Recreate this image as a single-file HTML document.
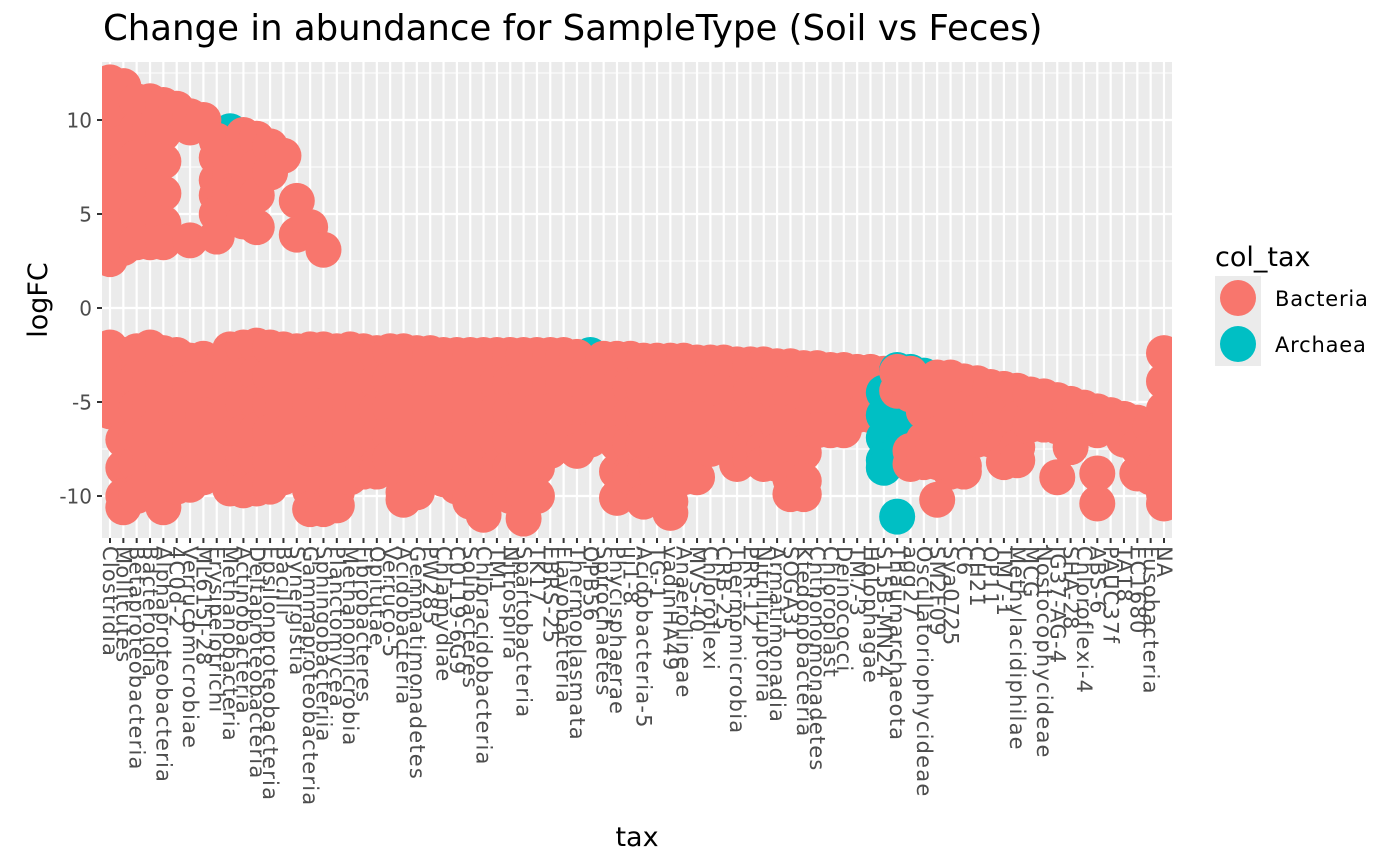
<!DOCTYPE html>
<html><head><meta charset="utf-8">
<style>
html,body{margin:0;padding:0;background:#fff;}
svg{display:block;font-family:"DejaVu Sans","Liberation Sans",sans-serif;}
</style></head>
<body>
<svg id="chart" width="1400" height="866" viewBox="0 0 1400 866" xmlns="http://www.w3.org/2000/svg">
<defs><clipPath id="panelClip"><rect x="102" y="62" width="1070" height="476"/></clipPath></defs>
<text x="103" y="40" font-size="35.5" fill="#000">Change in abundance for SampleType (Soil vs Feces)</text>
<rect x="102" y="62" width="1070" height="476" fill="#EBEBEB"/>
<g id="grid"></g>
<g id="points" clip-path="url(#panelClip)"></g>
<g id="yaxis"></g>
<g id="xaxis"></g>
<text x="637" y="846" font-size="27" text-anchor="middle" fill="#000">tax</text>
<text transform="translate(47,300) rotate(-90)" font-size="27" text-anchor="middle" fill="#000">logFC</text>
<g>
<text x="1215" y="266" font-size="27" fill="#000">col_tax</text>
<rect x="1215" y="276" width="46" height="45" fill="#EBEBEB"/>
<rect x="1215" y="321" width="46" height="45" fill="#EBEBEB"/>
<circle cx="1238" cy="298" r="18" fill="#F8766D"/>
<circle cx="1238" cy="344" r="18" fill="#00BFC4"/>
<text x="1275" y="306" font-size="21" letter-spacing="0.8" fill="#000">Bacteria</text>
<text x="1275" y="352" font-size="21" letter-spacing="0.8" fill="#000">Archaea</text>
</g>
</svg>
<script>
const categories = ["Clostridia","Mollicutes","Betaproteobacteria","Bacteroidia","Alphaproteobacteria","4C0d-2","Verrucomicrobiae","ML615J-28","Erysipelotrichi","Methanobacteria","Actinobacteria","Deltaproteobacteria","Epsilonproteobacteria","Bacilli","Synergistia","Gammaproteobacteria","Sphingobacteriia","Planctomycea","Methanomicrobia","Fibrobacteres","Opitutae","Verruco-5","Acidobacteria","Gemmatimonadetes","PW285","Chlamydiae","C0119-6G9","Solibacteres","Chloracidobacteria","TM1","Nitrospira","Spartobacteria","TK17","EBRS-25","Flavobacteria","Thermoplasmata","OPB56","Spirochaetes","Phycisphaerae","iii1-8","Acidobacteria-5","TG-1","vadinHA49","Anaerolineae","MVS-40","Chloroflexi","CRB-25","Thermomicrobia","PRR-12","Nitriliruptoria","Armatimonadia","SOGA31","Ktedonobacteria","Chthonomonadetes","Chloroplast","Deinococci","TM7-3","Holophagae","S15B-MN24","Thaumarchaeota","agg27","Oscillatoriophycideae","SM2F09","Sva0725","C6","CH21","OP11","TM7-1","Methylacidiphilae","MCG","Nostocophycideae","JG37-AG-4","SHA-28","Chloroflexi-4","ABS-6","PAUC37f","TA18","EC1680","Fusobacteria","NA"];
const yTicks = [10,5,0,-5,-10];
const yTickLabels = ["10","5","0","-5","-10"];
const yMinor = [12.5,7.5,2.5,-2.5,-7.5];
const bacteriaVals = [
[12,10.5,9,7.5,6,4.5,3.2,2.6,-2.1,-3.5,-5,-5.5],
[11.8,10.3,8.8,7.3,5.8,4.3,3.2,-2.5,-4,-5.5,-7,-8.5,-10,-10.6],
[11,9.5,8,6.5,5,3.5,-2.3,-3.8,-5.3,-6.8,-8.3,-9.8,-10],
[11,9.5,8,6.5,5,3.5,-2.1,-3.6,-5.1,-6.6,-8.1,-9.5],
[10.8,9.3,7.8,6.1,4.5,3.5,-2.4,-3.9,-5.4,-6.9,-8.4,-9.9,-10.6],
[10.6,-2.5,-4,-5.5,-7,-8.5,-9.5],
[10.2,9.6,3.6,-2.8,-4.3,-5.8,-7.3,-8.8,-9.4],
[10,-2.7,-4.2,-5.7,-7.2,-8.7,-9],
[8.9,8,6.8,6,5,3.8,-3.3,-6],
[7.2,6,-2.2,-3.7,-5.2,-6.7,-8.2,-9.6],
[9.2,7.7,6.2,4.6,-2.1,-3.6,-5.1,-6.6,-8.1,-9.7],
[9,7.5,6,4.3,-2,-3.5,-5,-6.5,-8,-9.6],
[8.6,7.2,-2.1,-3.6,-5.1,-6.6,-8.1,-9.5],
[8.1,-2.2,-3.7,-5.2,-6.7,-8.2,-9],
[5.7,3.9,-2.3,-3.8,-5.3,-6.8,-7.6],
[4.3,-2.2,-3.7,-5.2,-6.7,-8.2,-9.7,-10.7],
[3.1,-2.2,-3.7,-5.2,-6.7,-8.2,-9.7,-10.7],
[-2.3,-3.8,-5.3,-6.8,-8.3,-9.8,-10.5],
[-2.2,-3.7,-5.2,-6.7,-8.2,-9],
[-2.3,-3.8,-5.3,-6.8,-8.3,-8.7],
[-2.4,-3.9,-5.4,-6.9,-8.4,-8.7],
[-2.3,-3.8,-5.3,-6.8,-8],
[-2.3,-3.8,-5.3,-6.8,-8.3,-9.8,-10.2],
[-2.4,-3.9,-5.4,-6.9,-8.4,-9.8],
[-2.4,-3.9,-5.4,-6.9,-8.5],
[-2.5,-4,-5.5,-7,-8.5,-9.1],
[-2.5,-4,-5.5,-7,-8.5,-9.5],
[-2.5,-4,-5.5,-7,-8.5,-10,-10.3],
[-2.5,-4,-5.5,-7,-8.5,-10,-11],
[-2.5,-4,-5.5,-7,-8.5,-9],
[-2.5,-4,-5.5,-7,-8.5,-10],
[-2.5,-4,-5.5,-7,-8.5,-10,-11.2],
[-2.5,-4,-5.5,-7,-8.5,-10],
[-2.5,-4,-5.5,-7,-7.6],
[-2.5,-4,-5.5,-7],
[-2.6,-4.1,-5.6,-7.1,-7.6],
[-3,-4.5,-6,-7],
[-2.7,-4.2,-6.1],
[-2.7,-4.2,-5.7,-7.2,-8.7,-10.1],
[-2.7,-4.2,-5.7,-7.2,-8.7,-9],
[-2.8,-4.3,-5.8,-7.3,-8.8,-10.3],
[-2.8,-4.3,-5.8,-7.3,-8.8,-9],
[-2.8,-4.3,-5.8,-7.3,-8.8,-10.3,-10.9],
[-2.8,-4.3,-5.8,-7.3,-8.8,-9],
[-2.9,-4.4,-5.9,-7.4,-9],
[-2.9,-4.4,-5.9,-7.5],
[-2.9,-4.4,-6],
[-3,-4.5,-6,-7.5,-8.3],
[-3,-4.5,-6,-7.5,-8],
[-3,-4.5,-6,-7.5,-8.3],
[-3.1,-4.6,-6.1,-7.6,-8.3],
[-3.1,-4.6,-6.1,-7.6,-9.1,-9.9],
[-3.2,-4.7,-6.2,-7.7,-9.2,-9.9],
[-3.2,-4.7,-6.5],
[-3.3,-4.8,-6.5],
[-3.3,-4.8,-6.5],
[-3.4,-4.9,-5.7],
[-3.4,-4.9,-5.7],
[-3.5,-4.5],
[],
[],
[],
[],
[-3.7,-5.2,-6.7,-8.2,-8.7],
[-3.9,-5.4,-6.9,-8.4,-8.7],
[-4,-5.5,-7],
[-4.2,-5.7,-7],
[-4.3,-5.8,-7.3,-8.2],
[-4.4,-5.9,-7.4,-8.1],
[-4.6,-6.2],
[-4.7,-6.2],
[-4.9,-6.3,-9],
[-5.1,-6.4,-7.4],
[-5.3,-6],
[-5.5,-6.5,-8.8,-10.4],
[-5.7,-6.3],
[-5.9,-7],
[-6.1,-7.4,-8.8],
[-6.3,-7.5,-9],
[-2.4,-3.9,-5.4,-6.9,-8.4,-9.9,-10.4]
];
const archaeaBackCats = [9,16,36];
const archaeaBackVals = [[9.4],[-2.4],[-2.5]];
const archaeaFrontCats = [58,59,60,61];
const archaeaFrontVals = [[-4.5,-5.7,-6.9,-8.1,-8.5],[-3.3,-4.8,-6,-11.1],[-3.4],[-3.6,-5,-6.5]];
const bacteriaFrontCats = [59,60,61,62];
const bacteriaFrontVals = [[-3.4,-4.4],[-3.5,-4.6,-7.6,-8.3],[-4,-5.5,-7,-8.2],[-3.7,-5.2,-6.7,-8.2,-10.2]];

const NS = "http://www.w3.org/2000/svg";
const PX0 = 102, PX1 = 1172, PY0 = 62, PY1 = 538;
const step = (PX1 - PX0) / (categories.length - 1 + 1.2);
function xPos(i){ return PX0 + step * (0.6 + i); }
function yPos(v){ return 308 - v * 18.8; }
function mk(tag, attrs, parent){
  const el = document.createElementNS(NS, tag);
  for (const k in attrs) el.setAttribute(k, attrs[k]);
  parent.appendChild(el);
  return el;
}
const grid = document.getElementById('grid');
yMinor.forEach(v => {
  const l = mk('line', {x1:PX0, x2:PX1, y1:yPos(v), y2:yPos(v), stroke:'#fff', 'stroke-width':1.1}, grid);
  
  
});
yTicks.forEach(v => {
  const l = mk('line', {x1:PX0, x2:PX1, y1:yPos(v), y2:yPos(v), stroke:'#fff', 'stroke-width':2.2}, grid);
  
  
});
categories.forEach((c, i) => {
  const l = mk('line', {x1:xPos(i), x2:xPos(i), y1:PY0, y2:PY1, stroke:'#fff', 'stroke-width':2.2}, grid);
  
  
});
const pts = document.getElementById('points');
function drawGroup(cats, vals, color, name){
  cats.forEach((ci, k) => {
    vals[k].forEach(v => {
      const c = mk('circle', {cx:xPos(ci), cy:yPos(v), r:18, fill:color}, pts);
      
      
    });
  });
}
drawGroup(archaeaBackCats, archaeaBackVals, '#00BFC4', 'point-archaea');
drawGroup(bacteriaVals.map((_, i) => i), bacteriaVals, '#F8766D', 'point-bacteria');
drawGroup(archaeaFrontCats, archaeaFrontVals, '#00BFC4', 'point-archaea');
drawGroup(bacteriaFrontCats, bacteriaFrontVals, '#F8766D', 'point-bacteria');

const ya = document.getElementById('yaxis');
yTicks.forEach((v, k) => {
  const t = mk('line', {x1:97, x2:102, y1:yPos(v), y2:yPos(v), stroke:'#333', 'stroke-width':2}, ya);
  
  
  const tx = mk('text', {x:92, y:yPos(v)+7.5, 'font-size':20, 'text-anchor':'end', fill:'#4D4D4D'}, ya);
  tx.textContent = yTickLabels[k];
  
  
});
const xa = document.getElementById('xaxis');
categories.forEach((c, i) => {
  const x = xPos(i);
  const t = mk('line', {x1:x, x2:x, y1:538, y2:543, stroke:'#333', 'stroke-width':2}, xa);
  
  
  const tx = mk('text', {x:x, y:546, 'font-size':21, 'letter-spacing':1.2, fill:'#4D4D4D', 'dominant-baseline':'central', transform:'rotate(90 '+x+' 546)'}, xa);
  tx.textContent = c;
  
  
});
</script>
</body></html>
